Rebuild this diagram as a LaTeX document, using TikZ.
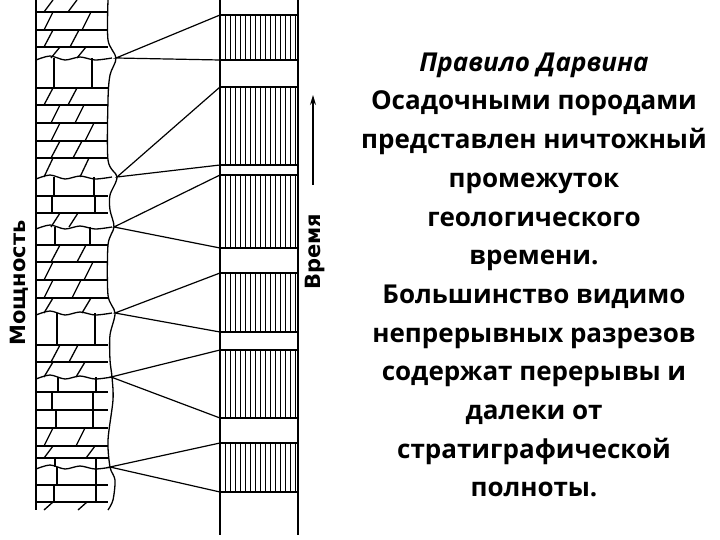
\documentclass[tikz,border=0pt]{standalone}
\usepackage{fontspec}
\usetikzlibrary{arrows.meta}
\setmainfont{Open Sans}
\setsansfont{DejaVu Sans}
\begin{document}
\begin{tikzpicture}[x=1pt,y=-1pt,line width=1.3pt,
  conn/.style={line width=1.2pt},
  hatch/.style={line width=0.9pt},
  txt/.style={align=center,font=\bfseries\fontsize{26}{38.7}\selectfont},
  lab/.style={font=\sffamily\bfseries\fontsize{21}{21}\selectfont,rotate=90}]
\useasboundingbox (0,0) rectangle (720,540);
% left column
\draw (36,0) -- (36,510);
\draw plot[smooth] coordinates {(108,0)(108,40)(116,58)(110,75)(108,100)(108,160)(117,177)(110,195)(110,210)(114,227)(108,245)(108,295)(115,313)(110,335)(110,360)(112,377)(113,400)(108,440)(110,467)(115,480)(113,500)(108,510)};
\foreach \a/\b/\t in {0/12/0,12/30/0,30/47/0,47/58/0,58/88/1,88/105/0,105/123/0,123/141/0,141/158/0,158/177/0,177/196/1,196/213/1,213/227/0,227/245/1,245/262/0,262/280/0,280/298/0,298/313/0,313/345/1,345/362/0,362/377/0,377/392/1,392/410/1,410/428/1,428/446/0,446/458/0,458/467/1,467/485/1,485/502/1,502/510/0}{
  \ifnum\t=0
    \draw ({68+mod(\a*3,22)},\b) -- ({77+mod(\a*3,22)},\a);
    \draw ({44+mod(\a*7,14)},\b) -- ({53+mod(\a*7,14)},\a);
  \else
    \draw ({52+mod(\a,7)},\a) -- ({52+mod(\a,7)},\b);
    \draw ({88+mod(\a,9)},\a) -- ({88+mod(\a,9)},\b);
  \fi
}
\foreach \y in {12,30,47,88,105,123,141,158,196,213,245,262,280,298,345,362,392,410,428,446,458,485,502}{
  \draw (36,\y) -- (108,\y);}
\foreach \y in {58,177,227,313,377,467}{
  \draw plot[smooth] coordinates {(36,\y+2)(50,\y-2)(65,\y+2)(80,\y-1)(95,\y+2)(112,\y)};}
% right column
\draw (220,0) -- (220,535);
\draw (298,0) -- (298,535);
\foreach \a/\b in {15/60,87/165,175/248,273/332,350/418,443/492}{
  \draw (220,\a) -- (298,\a);
  \draw (220,\b) -- (298,\b);
  \foreach \x in {225,230,...,295}{\draw[hatch] (\x,\a) -- (\x,\b);}
}
\coordinate (p1) at (116,58);
\coordinate (p2) at (117,177);
\coordinate (p3) at (114,227);
\coordinate (p4) at (115,313);
\coordinate (p5) at (111,377);
\coordinate (p6) at (110,467);
\foreach \p/\a/\b in {p1/15/60,p2/87/165,p3/175/248,p4/273/332,p5/350/418,p6/443/492}{
  \coordinate (\p a) at (220,\a);
  \coordinate (\p b) at (220,\b);
  \draw[conn] (\p a) -- (\p) -- (\p b);
}
\node[lab] (moshch) at (19,283) {Мощность};
\node[lab] (vremya) at (315,252) {Время};
\coordinate (arB) at (313,185);
\coordinate (arT) at (313,95);
\draw[line width=1.2pt,-{Stealth[length=10pt,width=6pt]}] (arB) -- (arT);
\node[txt] (text) at (534,275) {\textit{Правило Дарвина}\\Осадочными породами\\представлен ничтожный\\промежуток\\геологического\\времени.\\Большинство видимо\\непрерывных разрезов\\содержат перерывы и\\далеки от\\стратиграфической\\полноты.};
\end{tikzpicture}
\end{document}
